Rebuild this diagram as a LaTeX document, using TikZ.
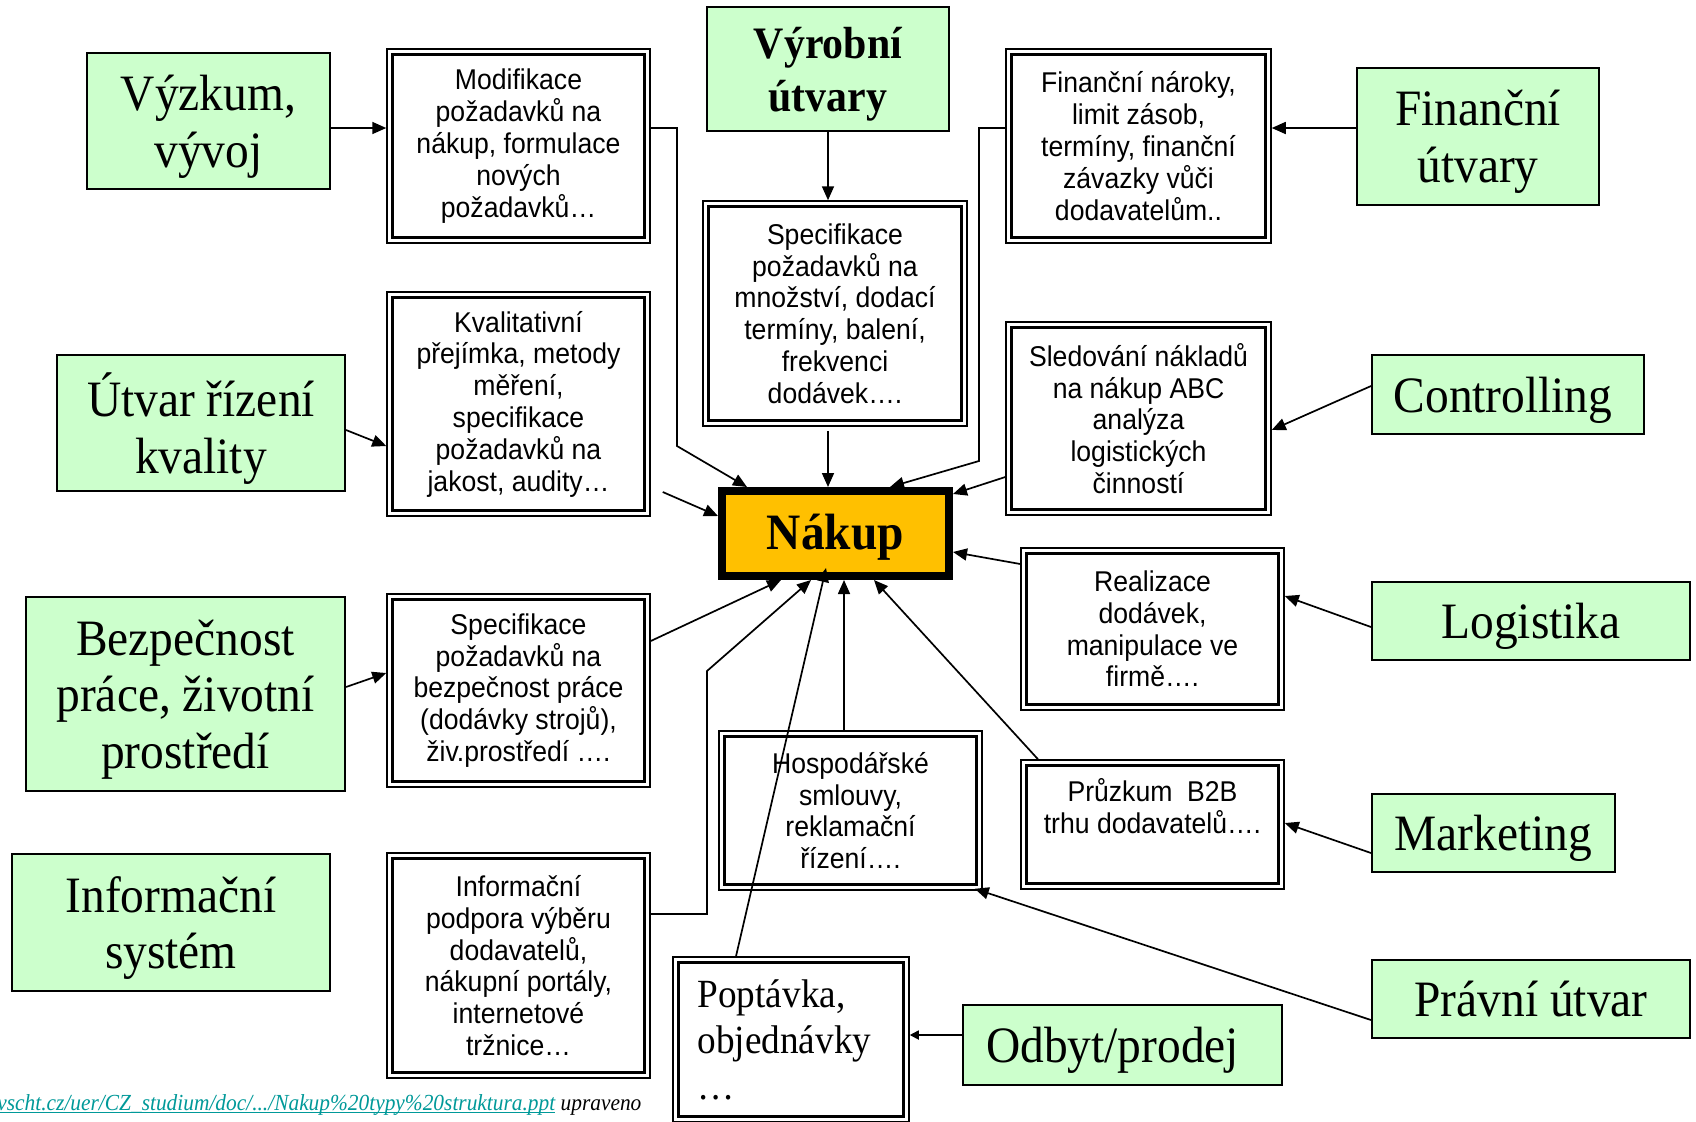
\documentclass[tikz,border=0pt]{standalone}
\usepackage{fontspec}
\setmainfont{Liberation Serif}[FakeStretch=0.93]
\newfontfamily\arialf{Liberation Sans}[FakeStretch=0.93]
\usetikzlibrary{arrows.meta,calc}
\definecolor{boxgreen}{HTML}{CCFFCC}
\definecolor{nakupfill}{HTML}{FFC000}
\definecolor{linkteal}{HTML}{009999}
\newcommand\fGreen{\fontsize{25.5}{28.3}\selectfont}
\newcommand\fBold{\bfseries\fontsize{22.5}{26.5}\selectfont}
\newcommand\fNakup{\bfseries\fontsize{25.5}{28}\selectfont}
\newcommand\fBox{\arialf\fontsize{14.3}{15.9}\selectfont}
\newcommand\fPop{\fontsize{20}{23}\selectfont}
\newcommand\fSrc{\itshape\fontsize{11.5}{13}\selectfont}
\begin{document}
\begin{tikzpicture}[x=0.5pt,y=-0.5pt,
  sz/.style 2 args={minimum width=#1*0.5pt,minimum height=#2*0.5pt},
  dept/.style={draw,line width=1pt,fill=boxgreen,font=\fGreen,align=center,inner sep=0pt,text depth=0pt},
  dbox/.style={draw,line width=0.75pt,fill=white,font=\fBox,align=center,inner sep=0pt,
    path picture={\draw[line width=1.25pt]
      ([xshift=2.75pt,yshift=-2.75pt]path picture bounding box.north west) rectangle
      ([xshift=-2.75pt,yshift=2.75pt]path picture bounding box.south east);}},
  hub/.style={draw,line width=4pt,fill=nakupfill,font=\fNakup,inner sep=0pt,text depth=2pt},
  conn/.style={line width=0.85pt,-{Triangle[length=7pt,width=6pt]}},
  connsmall/.style={line width=0.85pt,-{Triangle[length=4.5pt,width=4.5pt]}},
]
\useasboundingbox (0,0) rectangle (1696,1121);
\fill[white] (0,0) rectangle (1696,1121);

% departments
\node[dept,sz={243}{136}] (vyzkum) at (208.5,121) {Výzkum,\\vývoj};
\node[dept,sz={242}{124},font=\fBold] (vyrobni) at (828,69) {Výrobní\\útvary};
\node[dept,sz={242}{137}] (finutv) at (1478,136.5) {Finanční\\útvary};
\node[dept,sz={288}{136}] (kvalita) at (201,423) {Útvar řízení\\kvality};
\node[dept,sz={272}{79}] (controlling) at (1508,394.5) {Controlling\hspace*{5pt}};
\node[dept,sz={319}{194}] (bezp) at (185.5,694) {Bezpečnost\\práce, životní\\prostředí};
\node[dept,sz={318}{78}] (logistika) at (1531,621) {Logistika};
\node[dept,sz={318}{137}] (infsys) at (171,922.5) {Informační\\systém};
\node[dept,sz={243}{78}] (marketing) at (1493.5,833) {Marketing};
\node[dept,sz={318}{78}] (pravni) at (1531,999) {Právní útvar};
\node[dept,sz={319}{80}] (odbyt) at (1122.5,1045) {Odbyt/prodej\hspace*{10pt}};

% requirement boxes
\node[dbox,sz={263}{194}] (modif) at (518.5,146) {Modifikace\\požadavků na\\nákup, formulace\\nových\\požadavků…};
\node[dbox,sz={264}{225}] (specmn) at (835,313.5) {Specifikace\\požadavků na\\množství, dodací\\termíny, balení,\\frekvenci\\dodávek….};
\node[dbox,sz={265}{194}] (finnar) at (1138.5,146) {Finanční nároky,\\limit zásob,\\termíny, finanční\\závazky vůči\\dodavatelům..};
\node[dbox,sz={263}{224}] (kval2) at (518.5,404) {Kvalitativní\\přejímka, metody\\měření,\\specifikace\\požadavků na\\jakost, audity…};
\node[dbox,sz={265}{193}] (sled) at (1138.5,418.5) {Sledování nákladů\\na nákup ABC\\analýza\\logistických\\činností};
\node[dbox,sz={263}{162}] (realiz) at (1152.5,629) {Realizace\\dodávek,\\manipulace ve\\firmě….};
\node[dbox,sz={263}{193}] (specbz) at (518.5,690.5) {Specifikace\\požadavků na\\bezpečnost práce\\(dodávky strojů),\\živ.prostředí ….};
\node[dbox,sz={263}{159}] (hosp) at (850.5,810.5) {Hospodářské\\smlouvy,\\reklamační\\řízení….};
\node[dbox,sz={263}{129}] (pruzkum) at (1152.5,824.5) {};
\node[font=\fBox,align=center,inner sep=0pt,anchor=north] (pruzkumtext) at ($(pruzkum.north)+(0,19)$) {Průzkum\ \ B2B\\trhu dodavatelů….};
\node[dbox,sz={263}{225}] (infbox) at (518.5,965.5) {Informační\\podpora výběru\\dodavatelů,\\nákupní portály,\\internetové\\tržnice…};
\node[dbox,sz={236}{165}] (poptavka) at (791,1039.5) {};
\node[font=\fPop,align=left,inner sep=0pt,anchor=north west] (poptext) at ($(poptavka.north west)+(25,23)$) {Poptávka,\\objednávky\\…};

% central node
\node[hub,sz={227}{85}] (nakup) at (835.5,533.5) {Nákup};

% connectors
\draw[conn] (vyzkum.east |- 0,128) -- (modif.west |- 0,128);
\draw[conn] (modif.east |- 0,128) -- (677,128) -- (677,446) -- (747,0 |- nakup.north);
\draw[conn] (vyrobni.south) -- (vyrobni.south |- specmn.north);
\draw[conn] ($(vyrobni.south |- specmn.south)+(0,4)$) -- (vyrobni.south |- nakup.north);
\draw[conn] (finutv.west |- 0,128) -- (finnar.east |- 0,128);
\draw[conn] (finnar.west |- 0,128) -- (979,128) -- (979,461) -- (890,0 |- nakup.north);
\draw[conn] (kvalita.east |- 0,430) -- (kval2.west |- 0,446);
\draw[conn] ($(kval2.east |- 0,492)+(12,0)$) -- (nakup.west |- 0,516);
\draw[conn] (controlling.west |- 0,386) -- (sled.east |- 0,430);
\draw[conn] (sled.west |- 0,477) -- (nakup.east |- 0,494);
\draw[conn] (logistika.west |- 0,627) -- (realiz.east |- 0,596);
\draw[conn] (realiz.west |- 0,564) -- (nakup.east |- 0,552);
\draw[conn] (marketing.west |- 0,853) -- (pruzkum.east |- 0,823);
\draw[conn] (bezp.east |- 0,687) -- (specbz.west |- 0,673);
\draw[conn] (specbz.east |- 0,641) -- (781,0 |- nakup.south);
\draw[conn] (infbox.east |- 0,914) -- (707,914) -- (707,671) -- (811,0 |- nakup.south);
\draw[conn] (736,0 |- poptavka.north) -- ($(826,0 |- nakup.south)+(0,-12)$);
\draw[conn] (844,0 |- hosp.north) -- (844,0 |- nakup.south);
\draw[conn] (1038,0 |- pruzkum.north) -- (874,0 |- nakup.south);
\draw[conn] (pravni.west |- 0,1020) -- ($(hosp.south east)+(-8,-2)$);
\draw[connsmall] (odbyt.west |- 0,1035) -- (poptavka.east |- 0,1035);

% source note
\node[font=\fSrc,anchor=base west,inner sep=0pt] (source) at (-3,1110)
  {\textcolor{linkteal}{\underline{\smash{vscht.cz/uer/CZ\_studium/doc/.../Nakup\%20typy\%20struktura.ppt}}} upraveno};
\end{tikzpicture}
\end{document}
